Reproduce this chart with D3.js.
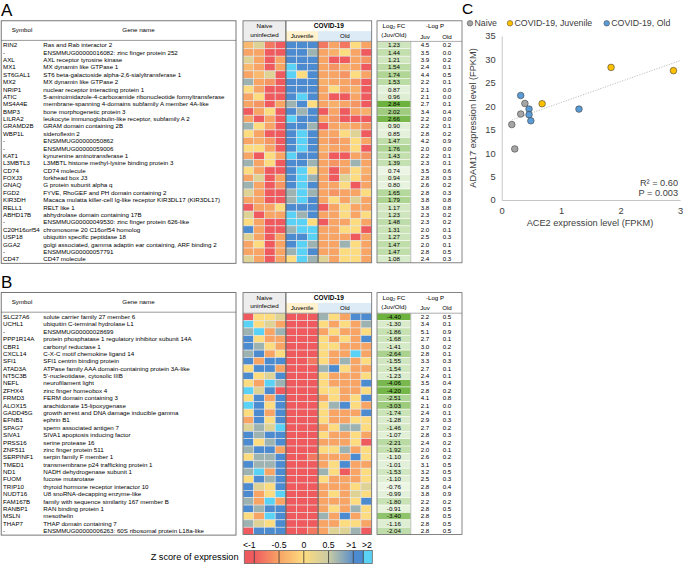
<!DOCTYPE html>
<html><head><meta charset="utf-8">
<script src="https://cdn.jsdelivr.net/npm/d3@7"></script>
<style>body{margin:0;background:#fff}svg{display:block;font-family:"Liberation Sans",Arial,sans-serif}</style>
</head><body><svg id="c" width="683" height="565"></svg>
<script>
// ---------- Panel A data ----------
const symbolsA=["RIN2","-","AXL","MX1","ST6GAL1","MX2","NRIP1","ATIC","MS4A4E","BMP3","LILRA2","GRAMD2B","WBP1L","-","-","KAT1","L3MBTL3","CD74","FOXJ3","GNAQ","FGD2","KIR3DH","RELL1","ABHD17B","-","C20H16orf54","USP18","GGA2","-","CD47"];
const namesA=["Ras and Rab interactor 2","ENSMMUG00000016082: zinc finger protein 252","AXL receptor tyrosine kinase","MX dynamin like GTPase 1","ST6 beta-galactoside alpha-2,6-sialyltransferase 1","MX dynamin like GTPase 2","nuclear receptor interacting protein 1","5-aminoimidazole-4-carboxamide ribonucleotide formyltransferase","membrane-spanning 4-domains subfamily A member 4A-like","bone morphogenetic protein 3","leukocyte immunoglobulin-like receptor, subfamily A 2","GRAM domain containing 2B","sideroflexin 2","ENSMMUG00000050862","ENSMMUG00000059006","kynurenine aminotransferase 1","L3MBTL histone methyl-lysine binding protein 3","CD74 molecule","forkhead box J3","G protein subunit alpha q","FYVE, RhoGEF and PH domain containing 2","Macaca mulatta killer-cell Ig-like receptor KIR3DL17 (KIR3DL17)","RELT like 1","abhydrolase domain containing 17B","ENSMMUG00000049530: zinc finger protein 626-like","chromosome 20 C16orf54 homolog","ubiquitin specific peptidase 18","golgi associated, gamma adaptin ear containing, ARF binding 2","ENSMMUG00000057791","CD47 molecule"];
const fcA=["1.23","1.44","1.21","1.54","1.74","1.53","0.87","0.96","2.84","2.02","2.66","0.90","0.85","1.47","1.76","1.43","1.39","0.74","0.94","0.80","1.65","1.79","1.17","1.23","1.48","1.31","1.27","1.47","1.47","1.08"];
const juvPA=["4.5","3.5","3.9","2.4","4.4","2.2","2.1","2.1","2.7","3.4","2.2","2.2","2.8","4.2","2.0","2.2","2.3","3.5","2.8","2.6","2.8","3.8","3.8","2.3","2.3","2.0","2.5","2.0","2.8","2.4"];
const oldPA=["0.2","0.0","0.2","0.1","0.5","0.1","0.0","0.0","0.1","0.4","0.0","0.1","0.2","0.9","0.0","0.1","0.1","0.6","0.3","0.2","0.3","0.8","0.8","0.2","0.2","0.1","0.3","0.1","0.5","0.3"];
const zA=[
[-0.3,0.3,-0.8,-1.3, 1.4,1.4,1.4, -0.8,-0.5,-0.8,0,-0.5],
[-0.5,-0.5,-1.3,-1.3, 1.4,1.4,0.7, -0.5,-0.4,0,-0.5,-1.3],
[0.3,-0.5,-1.3,-0.5, 1.4,1.4,1.4, -0.5,-1.3,-1.3,-0.5,-0.6],
[-0.3,-0.5,-1.3,-0.5, 2.4,1.4,1.4, -0.5,-0.6,-0.4,-0.5,-1.3],
[-0.5,-0.3,0.3,-1.3, 2.4,0,1.4, -0.5,-0.5,-0.6,0,-0.5],
[0.7,-0.5,-0.6,-1.3, 1.4,1.4,1.4, -0.4,-0.5,-0.5,-0.6,-1.3],
[0,-0.5,-1.3,-1.3, 1.4,1.4,1.4, -0.5,0,-0.5,-0.4,-1.3],
[-0.5,0,-1.3,-1.3, 1.4,2.4,1.4, -0.5,-1.3,-1.3,-0.5,-1.3],
[-0.5,-0.6,-1.3,-0.5, 0.7,1.4,0, -0.5,-0.4,-0.5,-0.6,-1.3],
[-1.3,-0.5,0,-1.3, 1.4,0.7,1.4, -1.3,-0.5,-1.3,-0.5,-0.4],
[-0.5,-1.3,-0.5,-1.3, 2.4,1.4,1.4, -0.5,-0.6,-1.3,-1.3,-1.3],
[0.7,0,-0.5,-1.3, 1.4,1.4,0.7, -1.3,-0.5,-0.4,-0.5,-0.6],
[0,-0.5,-1.3,-1.3, 1.4,2.4,1.4, -0.5,-0.5,0,0.3,-1.3],
[-0.5,-0.4,-0.6,-1.3, 1.4,2.4,1.4, -0.5,-0.6,-0.5,0,-0.5],
[0,0,-0.5,-1.3, 1.4,2.4,1.4, -0.4,-0.5,-0.5,0,-1.3],
[-0.5,-1.3,0,-0.5, 2.4,1.4,1.4, -0.5,-1.3,-1.3,-0.5,-0.6],
[0.7,-0.5,0,-1.3, 1.4,1.4,0.7, -0.5,-0.6,-0.5,0.7,-0.5],
[0,-0.5,-1.3,-1.3, 1.4,2.4,0, -0.5,-1.3,-0.5,0,-0.4],
[-0.5,0.3,-1.3,-0.5, 1.4,2.4,0.7, -0.5,-1.3,0.3,0,-0.5],
[0.7,-0.5,-1.3,-0.6, 1.4,2.4,1.4, -0.5,-0.5,0,-1.3,-0.5],
[0.3,-0.5,-1.3,-1.3, 0.7,2.4,0.7, -0.5,-0.6,-0.5,-0.5,0],
[-0.5,-0.5,-1.3,-1.3, 0.7,2.4,1.4, -0.5,0,-0.5,0.3,-0.5],
[-1.3,-0.5,-0.5,0, 1.4,1.4,1.4, -1.3,-0.5,0,-0.5,-0.5],
[0.3,-1.3,-0.5,-0.5, 2.4,0.7,1.4, -0.5,-0.5,0,-0.5,0],
[0,-0.5,-1.3,-1.3, 2.4,2.4,0, -1.3,-0.5,-0.5,0,-0.5],
[1.4,-0.5,-1.3,-1.3, 0.7,2.4,2.4, -0.5,-0.5,0,0,-1.3],
[0.3,-0.5,-1.3,-0.5, 1.4,1.4,2.4, -0.5,-0.5,-0.5,-1.3,-0.5],
[-0.5,0,-1.3,-0.5, 1.4,2.4,0.7, -0.5,-0.5,0.7,0,-0.5],
[-0.5,-0.5,-1.3,-0.5, 0.7,2.4,1.4, -0.5,-0.5,0,0,-0.5],
[0.3,-0.5,-1.3,-0.5, 0,2.4,0.7, 0.3,-0.5,0,0,-0.5]];

// ---------- Panel B data ----------
const symbolsB=["SLC27A6","UCHL1","-","PPP1R14A","CBR1","CXCL14","SFI1","ATAD3A","NT5C3B","NEFL","ZFHX4","FRMD3","ALOX15","GADD45G","EFNB1","SPAG7","SIVA1","PRSS16","ZNF511","SERPINF1","TMED1","ND1","FUOM","TRIP10","NUDT16","FAM167B","RANBP1","MSLN","THAP7","-"];
const namesB=["solute carrier family 27 member 6","ubiquitin C-terminal hydrolase L1","ENSMMUG00000028699","protein phosphatase 1 regulatory inhibitor subunit 14A","carbonyl reductase 1","C-X-C motif chemokine ligand 14","SFI1 centrin binding protein","ATPase family AAA domain-containing protein 3A-like","5'-nucleotidase, cytosolic IIIB","neurofilament light","zinc finger homeobox 4","FERM domain containing 3","arachidonate 15-lipoxygenase","growth arrest and DNA damage inducible gamma","ephrin B1","sperm associated antigen 7","SIVA1 apoptosis inducing factor","serine protease 16","zinc finger protein 511","serpin family F member 1","transmembrane p24 trafficking protein 1","NADH dehydrogenase subunit 1","fucose mutarotase","thyroid hormone receptor interactor 10","U8 snoRNA-decapping enzyme-like","family with sequence similarity 167 member B","RAN binding protein 1","mesothelin","THAP domain containing 7","ENSMMUG00000006263: 60S ribosomal protein L18a-like"];
const fcB=["-4.40","-1.30","-1.86","-1.68","-1.41","-2.64","-1.55","-1.54","-1.23","-4.06","-4.20","-2.51","-3.03","-1.74","-1.28","-1.46","-1.07","-2.21","-1.92","-1.10","-1.01","-1.53","-1.10","-0.76","-0.99","-1.80","-0.91","-3.40","-1.16","-2.04"];
const juvPB=["2.2","3.4","5.1","2.7","3.0","2.8","3.3","2.7","2.4","3.5","2.8","4.1","2.1","2.4","2.9","2.7","2.8","2.4","2.0","2.6","3.1","3.2","2.5","2.8","3.8","2.2","2.8","2.8","2.8","2.8"];
const oldPB=["0.5","0.1","0.9","0.1","0.2","0.1","0.3","0.1","0.1","0.4","0.2","0.8","0.0","0.1","0.3","0.2","0.3","0.2","0.1","0.2","0.5","0.5","0.3","0.4","0.9","0.2","0.5","0.5","0.5","0.5"];
const zB=[
[-1.3,0,0,0.3, -1.3,-1.3,-1.3, 0.7,0,-0.5,1.4,1.4],
[2.4,0,0.3,-0.5, -1.3,-1.3,-1.3, 0,-0.5,0,-0.5,0.7],
[0.7,2.4,-0.5,0.7, -1.3,-1.3,-1.3, -0.5,0,-0.5,-0.5,0],
[1.4,0,-0.5,-0.5, -1.3,-1.3,-1.3, 0,-0.5,0,-0.5,1.4],
[1.4,0.7,0,-0.5, -1.3,-1.3,-1.3, 0,0,-0.5,-0.5,-0.5],
[0.7,1.4,-0.5,0, -1.3,-1.3,-1.3, 0,-0.5,-0.5,2.4,-0.5],
[1.4,-0.5,1.4,1.4, -1.3,-1.3,-0.8, 0,-0.5,0.7,-0.5,0],
[0,1.4,1.4,-0.5, -1.3,-1.3,-1.3, 0.7,1.4,0,-0.5,-0.5],
[1.4,0,0.3,1.4, -1.3,-1.3,-1.3, 0,-0.5,-0.5,-0.5,0],
[0,-0.5,2.4,0.7, -1.3,-1.3,-1.3, 0,-0.5,-0.5,-0.5,1.4],
[2.4,0.3,1.4,-1.3, -1.3,-1.3,-1.3, 0,0,-0.5,-0.5,0],
[0,1.4,-0.5,1.4, -1.3,-1.3,-1.3, -0.5,0,-0.5,0,1.4],
[2.4,1.4,0,1.4, -1.3,-1.3,-1.3, 0,0.7,1.4,0,-0.5],
[0,1.4,-0.5,1.4, -1.3,-1.3,-1.3, 0,-0.5,-0.5,-0.5,1.4],
[-0.5,1.4,0,1.4, -1.3,-1.3,-1.3, 0,-0.5,-0.5,0,0],
[0.3,0.7,0.3,2.4, -1.3,-1.3,-1.3, -0.5,0,0.7,0.7,0],
[1.4,0.7,1.4,1.4, -1.3,-1.3,-1.3, 0,-0.5,-0.5,0,-0.5],
[1.4,0,0.7,1.4, -1.3,-1.3,-1.3, -0.5,-0.5,-0.5,0,-1.3],
[0.7,1.4,1.4,-0.5, -1.3,-1.3,-1.3, 0,0,0.7,-0.5,0],
[0,0.7,0.7,1.4, -1.3,-1.3,-0.8, -0.5,-0.5,-0.5,1.4,0],
[1.4,0.7,0.7,1.4, -1.3,-1.3,-1.3, -0.5,0,1.4,-0.5,-0.5],
[0.7,2.4,-0.5,1.4, -1.3,-1.3,-1.3, 0.7,0,-1.3,-0.5,0],
[0,1.4,0.7,1.4, -1.3,-1.3,-1.3, 0,-0.5,-0.5,-0.5,0],
[1.4,0.3,0,1.4, -1.3,-1.3,-1.3, -0.5,-0.5,-0.5,0,0.3],
[1.4,-0.5,0,2.4, -1.3,-1.3,-1.3, -0.5,0,-0.5,0.3,0],
[0.7,-0.5,2.4,-0.5, -1.3,-1.3,-1.3, -0.5,-0.5,-0.5,0,1.4],
[1.4,0.7,1.4,1.4, -1.3,-1.3,-1.3, -0.5,0,-0.5,0.7,0],
[0,-0.5,2.4,1.4, -1.3,-1.3,-1.3, 0.7,-0.5,1.4,-0.5,0],
[0.7,0.3,0,1.4, -1.3,-1.3,-1.3, -0.5,-0.5,0,0,-0.5],
[-1.3,1.4,1.4,1.4, -1.3,-1.3,-0.8, -0.5,0.3,0.3,0.7,-1.3]];

// ---------- Heat legend ----------
const legendLabels=["<-1","-0.5","0","0.5",">1",">2"];
const legendLabelPos=[-1.1,-0.5,0,0.5,0.96,1.28];
const legendTicks=[-1,-0.5,0,0.5,1,1.2];

// ---------- Panel C data ----------
const groupNames=["Naive","COVID-19, Juvenile","COVID-19, Old"];
const groupColors=["#A5A5A5","#FFC000","#5B9BD5"];
const ace2=[0.17,0.22,0.32,0.39, 0.68,1.84,2.89, 0.32,0.46,0.46,0.49,1.30];
const adam17=[16.1,10.9,18.35,20.6, 20.55,28.3,27.6, 22.3,19.4,18.2,16.9,19.4];
const group=[0,0,0,0, 1,1,1, 2,2,2,2,2];
const xTicksC=[0,1,2,3];
const yTicksC=[0,5,10,15,20,25,30,35];

// ---------- drawing ----------
const svg=d3.select("#c");
const FS=6.2;
const ROWH=7.38;
const heatColor=v=>{
  if(v>2) return "#5AD2F6";
  if(v>1) return "#4C8BD0";
  return d3.scaleLinear().domain([-1,-0.5,0,0.5,1]).range(["#EF5A5F","#F7A465","#FDDC80","#CACBA3","#5A8FC9"]).clamp(true)(v);
};
const heatX=d3.scaleBand().domain(d3.range(12)).range([243,371.7]);

function panel(top,label,symbols,names,fc,juvP,oldP,z){
  const g=svg.append("g");
  const headH=20.6;
  const rowsTop=top+headH;
  const yS=d3.scaleBand().domain(d3.range(symbols.length)).range([rowsTop,rowsTop+symbols.length*ROWH]);
  const bottom=rowsTop+symbols.length*ROWH;
  g.append("text").attr("x",1).attr("y",top-5).attr("font-size",17).text(label);
  // --- table
  g.append("rect").attr("x",1.2).attr("y",top).attr("width",234.8).attr("height",bottom-top+0.5).attr("fill","none").attr("stroke","#555").attr("stroke-width",0.8);
  g.append("line").attr("x1",1.2).attr("x2",236).attr("y1",rowsTop-1).attr("y2",rowsTop-1).attr("stroke","#555").attr("stroke-width",0.6);
  g.append("text").attr("x",22).attr("y",top+9.5).attr("dy","0.35em").attr("text-anchor","middle").attr("font-size",FS).text("Symbol");
  g.append("text").attr("x",138.5).attr("y",top+9.5).attr("dy","0.35em").attr("text-anchor","middle").attr("font-size",FS).text("Gene name");
  g.selectAll(null).data(symbols).join("text").attr("x",3).attr("y",(d,i)=>yS(i)+ROWH/2).attr("dy","0.35em").attr("font-size",FS).text(d=>d);
  g.selectAll(null).data(names).join("text").attr("x",43.3).attr("y",(d,i)=>yS(i)+ROWH/2).attr("dy","0.35em").attr("font-size",FS).text(d=>d);
  // --- heatmap header
  const x0=heatX.range()[0], x1=heatX.range()[1], xN=heatX(4), xJ=heatX(7);
  g.append("rect").attr("x",x0).attr("y",top).attr("width",xN-x0).attr("height",headH).attr("fill","#EDEDED");
  g.append("rect").attr("x",xN).attr("y",top+10.4).attr("width",xJ-xN).attr("height",headH-10.4).attr("fill","#FFF2CC");
  g.append("rect").attr("x",xJ).attr("y",top+10.4).attr("width",x1-xJ).attr("height",headH-10.4).attr("fill","#DDEBF7");
  g.append("text").attr("x",(x0+xN)/2).attr("y",top+5.2).attr("dy","0.35em").attr("text-anchor","middle").attr("font-size",FS).text("Naive");
  g.append("text").attr("x",(x0+xN)/2).attr("y",top+13.6).attr("dy","0.35em").attr("text-anchor","middle").attr("font-size",FS).text("uninfected");
  g.append("text").attr("x",(xN+x1)/2).attr("y",top+5).attr("dy","0.35em").attr("text-anchor","middle").attr("font-size",6.5).attr("font-weight","bold").text("COVID-19");
  g.append("text").attr("x",(xN+xJ)/2).attr("y",top+15.4).attr("dy","0.35em").attr("text-anchor","middle").attr("font-size",FS).text("Juvenile");
  g.append("text").attr("x",(xJ+x1)/2).attr("y",top+15.4).attr("dy","0.35em").attr("text-anchor","middle").attr("font-size",FS).text("Old");
  // --- heat cells
  const cells=[];
  z.forEach((row,i)=>row.forEach((v,j)=>cells.push({i,j,v})));
  g.selectAll(null).data(cells).join("rect")
    .attr("x",d=>heatX(d.j)).attr("y",d=>yS(d.i)).attr("width",heatX.bandwidth()).attr("height",yS.bandwidth())
    .attr("fill",d=>heatColor(d.v)).attr("stroke","#E4E4E4").attr("stroke-width",0.6);
  g.append("line").attr("x1",xN).attr("x2",xN).attr("y1",top).attr("y2",bottom).attr("stroke","#333").attr("stroke-width",0.9);
  g.append("line").attr("x1",xJ).attr("x2",xJ).attr("y1",rowsTop).attr("y2",bottom).attr("stroke","#333").attr("stroke-width",0.9);
  g.append("line").attr("x1",x0).attr("x2",x1).attr("y1",rowsTop).attr("y2",rowsTop).attr("stroke","#777").attr("stroke-width",0.6);
  g.append("rect").attr("x",x0).attr("y",top).attr("width",x1-x0).attr("height",bottom-top).attr("fill","none").attr("stroke","#666").attr("stroke-width",0.8);
  // --- FC table
  const fx0=377, fx1=410.8, fx2=462;
  const absFc=fc.map(d=>Math.abs(+d));
  const green=d3.scaleLinear().domain(d3.extent(absFc)).range(["#ECF5E4","#6DB23E"]);
  g.selectAll(null).data(fc).join("rect").attr("x",fx0).attr("y",(d,i)=>yS(i)).attr("width",fx1-fx0).attr("height",yS.bandwidth())
    .attr("fill",d=>green(Math.abs(+d))).attr("stroke","#fff").attr("stroke-width",0.5);
  g.selectAll(null).data(fc).join("text").attr("x",(fx0+fx1)/2).attr("y",(d,i)=>yS(i)+ROWH/2).attr("dy","0.35em").attr("text-anchor","middle").attr("font-size",FS).text(d=>d);
  g.selectAll(null).data(juvP).join("text").attr("x",425).attr("y",(d,i)=>yS(i)+ROWH/2).attr("dy","0.35em").attr("text-anchor","middle").attr("font-size",FS).text(d=>d);
  g.selectAll(null).data(oldP).join("text").attr("x",447).attr("y",(d,i)=>yS(i)+ROWH/2).attr("dy","0.35em").attr("text-anchor","middle").attr("font-size",FS).text(d=>d);
  const lg=g.append("text").attr("x",(fx0+fx1)/2).attr("y",top+5).attr("dy","0.35em").attr("text-anchor","middle").attr("font-size",FS);
  lg.append("tspan").text("Log");
  lg.append("tspan").attr("font-size",4.2).attr("dy","0.25em").text("2");
  lg.append("tspan").attr("dy","-0.18em").text(" FC");
  g.append("text").attr("x",(fx0+fx1)/2).attr("y",top+14.2).attr("dy","0.35em").attr("text-anchor","middle").attr("font-size",FS).text("(Juv/Old)");
  g.append("text").attr("x",435).attr("y",top+5).attr("dy","0.35em").attr("text-anchor","middle").attr("font-size",FS).text("-Log P");
  g.append("text").attr("x",425).attr("y",top+15.6).attr("dy","0.35em").attr("text-anchor","middle").attr("font-size",FS).text("Juv");
  g.append("text").attr("x",447).attr("y",top+15.6).attr("dy","0.35em").attr("text-anchor","middle").attr("font-size",FS).text("Old");
  g.append("line").attr("x1",fx1).attr("x2",fx1).attr("y1",rowsTop).attr("y2",bottom).attr("stroke","#888").attr("stroke-width",0.5);
  g.append("line").attr("x1",fx0).attr("x2",fx2).attr("y1",rowsTop).attr("y2",rowsTop).attr("stroke","#777").attr("stroke-width",0.6);
  g.append("rect").attr("x",fx0).attr("y",top).attr("width",fx2-fx0).attr("height",bottom-top).attr("fill","none").attr("stroke","#666").attr("stroke-width",0.8);
}
panel(20.8,"A",symbolsA,namesA,fcA,juvPA,oldPA,zA);
panel(292.6,"B",symbolsB,namesB,fcB,juvPB,oldPB,zB);

// ---------- heat legend ----------
{
  const lx=d3.scaleLinear().domain([-1.2,-1,1,1.2,1.4]).range([244.3,254.3,353.3,363.3,372.3]);
  const ly0=550.5, lh=13;
  const defs=svg.append("defs");
  const grad=defs.append("linearGradient").attr("id","zg").attr("x1","0%").attr("x2","100%");
  [-1,-0.5,0,0.5,1].forEach(v=>grad.append("stop").attr("offset",((v+1)/2*100)+"%").attr("stop-color",heatColor(v)));
  svg.append("rect").attr("x",lx(-1.2)).attr("y",ly0).attr("width",lx(-1)-lx(-1.2)).attr("height",lh).attr("fill",heatColor(-1.5));
  svg.append("rect").attr("x",lx(-1)).attr("y",ly0).attr("width",lx(1)-lx(-1)).attr("height",lh).attr("fill","url(#zg)");
  svg.append("rect").attr("x",lx(1)).attr("y",ly0).attr("width",lx(1.2)-lx(1)).attr("height",lh).attr("fill",heatColor(1.5));
  svg.append("rect").attr("x",lx(1.2)).attr("y",ly0).attr("width",lx(1.4)-lx(1.2)).attr("height",lh).attr("fill",heatColor(2.5));
  svg.selectAll(null).data(legendTicks).join("line").attr("x1",d=>lx(d)).attr("x2",d=>lx(d)).attr("y1",ly0).attr("y2",ly0+lh).attr("stroke","#333").attr("stroke-width",0.8);
  svg.append("rect").attr("x",lx(-1.2)).attr("y",ly0).attr("width",lx(1.4)-lx(-1.2)).attr("height",lh).attr("fill","none").attr("stroke","#666").attr("stroke-width",0.8);
  svg.selectAll(null).data(legendLabels).join("text").attr("x",(d,i)=>lx(legendLabelPos[i])).attr("y",545).attr("dy","0.35em").attr("text-anchor","middle").attr("font-size",8.7).text(d=>d);
  svg.append("text").attr("x",238.5).attr("y",560).attr("text-anchor","end").attr("font-size",9.2).text("Z score of expression");
}

// ---------- Panel C ----------
{
  const x=d3.scaleLinear().domain([0,3]).range([501.7,680]);
  const y=d3.scaleLinear().domain([0,35]).range([200,36]);
  const g=svg.append("g").attr("font-size",9.3).attr("fill","#404040");
  svg.append("text").attr("x",462).attr("y",14).attr("font-size",15.5).text("C");
  const ax=g.append("g").attr("transform","translate(0,200)").call(d3.axisBottom(x).tickValues(xTicksC).tickSize(0).tickPadding(7).tickFormat(d3.format("d")));
  const ay=g.append("g").attr("transform","translate(501.7,0)").call(d3.axisLeft(y).tickValues(yTicksC).tickSize(0).tickPadding(6));
  [ax,ay].forEach(a=>{a.select(".domain").attr("stroke","#BFBFBF").attr("stroke-width",0.9);a.selectAll("text").attr("font-size",9.3).attr("fill","#404040").attr("font-family","Liberation Sans, Arial, sans-serif");});
  g.append("text").attr("x",590).attr("y",222.7).attr("dy","0.35em").attr("text-anchor","middle").attr("font-size",9.2).text("ACE2 expression level (FPKM)");
  g.append("text").attr("transform","translate(473,118) rotate(-90)").attr("dy","0.35em").attr("text-anchor","middle").attr("font-size",9.2).text("ADAM17 expression level (FPKM)");
  // regression trend line
  const n=ace2.length, mx=d3.mean(ace2), my=d3.mean(adam17);
  let sxy=0,sxx=0;
  for(let i=0;i<n;i++){sxy+=(ace2[i]-mx)*(adam17[i]-my);sxx+=(ace2[i]-mx)**2;}
  const b=sxy/sxx, a=my-b*mx;
  const ex=d3.extent(ace2);
  g.append("line").attr("x1",x(ex[0])).attr("x2",x(3)).attr("y1",y(a+b*ex[0])).attr("y2",y(a+b*3))
    .attr("stroke","#BFBFBF").attr("stroke-width",1).attr("stroke-dasharray","1.2,1.4");
  g.selectAll(null).data(ace2).join("circle").attr("cx",d=>x(d)).attr("cy",(d,i)=>y(adam17[i])).attr("r",3.3)
    .attr("fill",(d,i)=>groupColors[group[i]]).attr("stroke","#404040").attr("stroke-width",0.6);
  g.append("text").attr("x",678).attr("y",182.7).attr("dy","0.35em").attr("text-anchor","end").attr("font-size",9.2).text("R² = 0.60");
  g.append("text").attr("x",678).attr("y",192.7).attr("dy","0.35em").attr("text-anchor","end").attr("font-size",9.2).text("P = 0.003");
  // legend
  const lgX=[470,510,606.7];
  g.selectAll(null).data(groupNames).join("circle").attr("cx",(d,i)=>lgX[i]).attr("cy",23.3).attr("r",2.8)
    .attr("fill",(d,i)=>groupColors[i]).attr("stroke","#404040").attr("stroke-width",0.5);
  g.selectAll(null).data(groupNames).join("text").attr("x",(d,i)=>lgX[i]+4.5).attr("y",23.3).attr("dy","0.35em").attr("font-size",8.8).text(d=>d);
}
</script></body></html>
